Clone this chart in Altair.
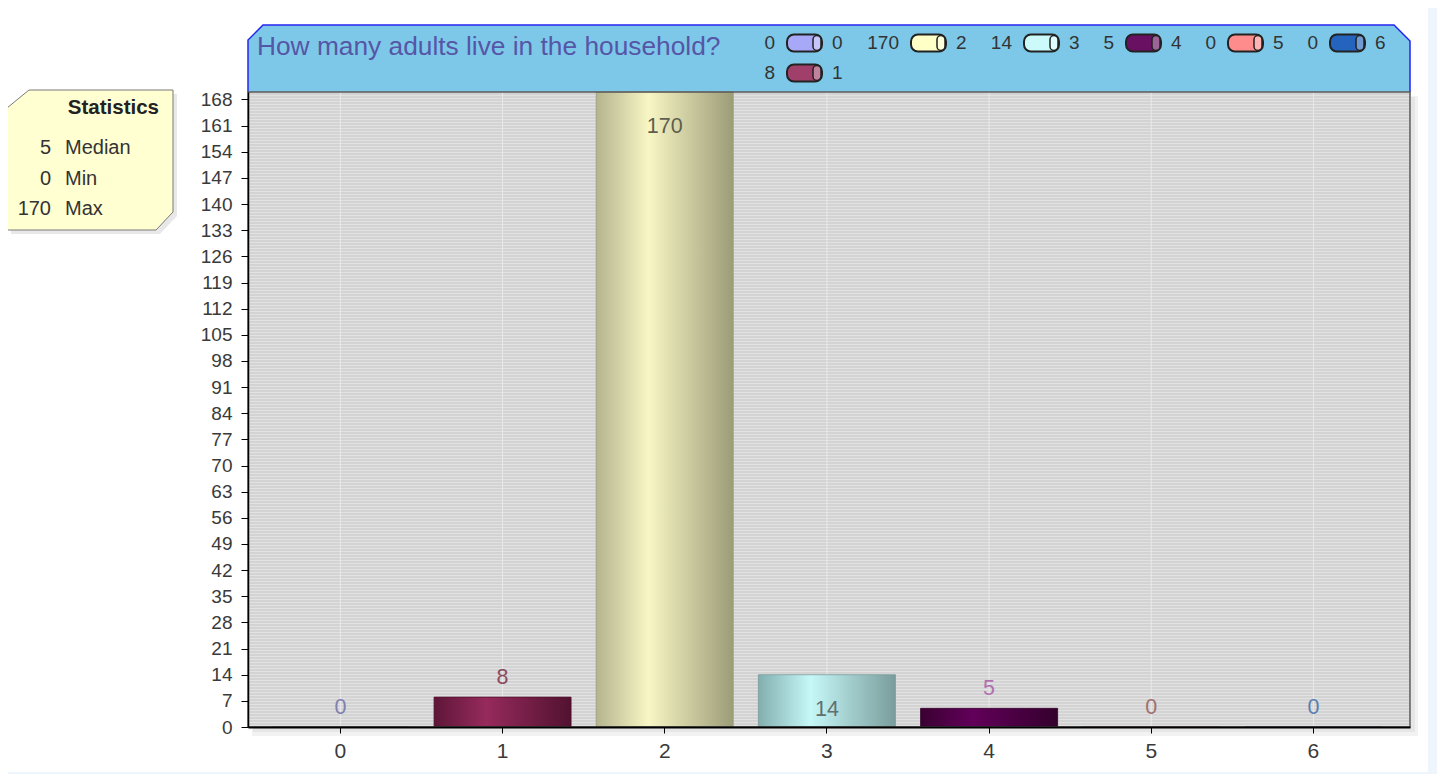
import altair as alt
import pandas as pd
import numpy as np

# ---------------- data ----------------
categories = ["0", "1", "2", "3", "4", "5", "6"]
counts = [0, 8, 170, 14, 5, 0, 0]
y_ticks = list(range(0, 169, 7))
legend_rows = [["0", "2", "3", "4", "5", "6"], ["1"]]
title_text = "How many adults live in the household?"
stats_names = ["Median", "Min", "Max"]

# ---------------- style ----------------
FONT = "Liberation Sans"
bar_style = {  # left edge, highlight, right edge
    "0": ("#7070C0", "#B0B0FF", "#6868B0"),
    "1": ("#5E1638", "#962A5C", "#521230"),
    "2": ("#B4B48E", "#F8F6C4", "#9C9C78"),
    "3": ("#82AEAE", "#C6F8F8", "#7A9C9C"),
    "4": ("#3A0032", "#62005A", "#34002C"),
    "5": ("#C05050", "#FF9090", "#B04848"),
    "6": ("#103870", "#3070D0", "#0E3266"),
}
label_colors = ["#8080B0", "#8A4A5E", "#5E5E50", "#5E7070", "#B070B0", "#A07070", "#5A7EB0"]
swatch_colors = {"0": "#A8A8F8", "1": "#A0406A", "2": "#FFFFC8", "3": "#CCFAFA",
                 "4": "#6A1062", "5": "#FF8C8C", "6": "#2464BE"}

W, H = 1162, 635
df = pd.DataFrame({"cat": categories, "count": counts})
one = pd.DataFrame({"k": [0]})

x_scale = alt.Scale(domain=categories, paddingInner=0.155, paddingOuter=0.16, align=0.46)
y_scale = alt.Scale(domain=[0, 170], nice=False, zero=True)
xax = alt.Axis(title=None, labelAngle=0, labelFontSize=21, labelColor="#3A3A3A", labelFont=FONT,
               tickColor="#000", tickSize=6, labelPadding=7, domainColor="#000", domainWidth=2,
               grid=False, bandPosition=0.5, zindex=1)
yax = alt.Axis(title=None, values=y_ticks, labelFontSize=19, labelColor="#3A3A3A", labelFont=FONT,
               tickColor="#000", tickSize=7, labelPadding=9, domainColor="#000", domainWidth=1.5,
               grid=False, zindex=1)
X = alt.X("cat:N", scale=x_scale, axis=xax)
Y = alt.Y("count:Q", scale=y_scale, axis=yax)

layers = []

# striped plot background
n_str = int(np.ceil(H / 3))
stops = []
for k in range(n_str):
    o0 = min(1.0, k * 3 / H)
    o1 = min(1.0, (k * 3 + 1) / H)
    o2 = min(1.0, (k * 3 + 3) / H)
    stops += [alt.GradientStop(offset=o0, color="#E2E2E2"), alt.GradientStop(offset=o1, color="#E2E2E2"),
              alt.GradientStop(offset=o1, color="#D3D3D3"), alt.GradientStop(offset=o2, color="#D3D3D3")]
stripes = alt.Gradient(gradient="linear", x1=0, x2=0, y1=0, y2=1, stops=stops)
layers.append(alt.Chart(one).mark_rect(fill=stripes).encode(
    x=alt.value(0), x2=alt.value(W), y=alt.value(0), y2=alt.value(H)))

# vertical grid lines at category centres
layers.append(alt.Chart(df).mark_rule(stroke="#E9E9E9", strokeWidth=1).encode(
    x=X, y=alt.value(0), y2=alt.value(H)))

# light-blue page strips (outside plot)
for (x1, x2, y1, y2) in [(1180, 1200, -92, 700), (-250, 1200, 680, 700)]:
    layers.append(alt.Chart(one).mark_rect(fill="#EEF5FD").encode(
        x=alt.value(x1), x2=alt.value(x2), y=alt.value(y1), y2=alt.value(y2)))

# plot shadow
for (x1, x2, y1, y2, col) in [(4, W + 8, H + 1, H + 9, "#F2F2F2"), (W + 1, W + 8, 4, H + 9, "#F2F2F2"),
                              (5, W + 5, H + 1, H + 5, "#E6E6E6"), (W + 1, W + 5, 5, H + 5, "#E6E6E6")]:
    layers.append(alt.Chart(one).mark_rect(fill=col).encode(
        x=alt.value(x1), x2=alt.value(x2), y=alt.value(y1), y2=alt.value(y2)))

# header box with cut corners
header_path = f"M0,0 L0,-52 L15,-67 L{W-16},-67 L{W},-51 L{W},0"
layers.append(alt.Chart(one).mark_point(
    shape=header_path, size=4, filled=True, fill="#7DC8E8", stroke="#2424F0",
    strokeWidth=1.5, opacity=1, fillOpacity=1, strokeOpacity=1
).encode(x=alt.value(0), y=alt.value(0)))
layers.append(alt.Chart(one).mark_text(
    text=title_text, font=FONT, fontSize=26.3, color="#5656A6", align="left", baseline="middle"
).encode(x=alt.value(9), y=alt.value(-45)))

# statistics box
stats_path = "M-241,16 L-219,-2 L-75,-2 L-75,120 L-92,138 L-241,138 Z"
layers.append(alt.Chart(one).mark_point(
    shape=stats_path, size=4, filled=True, fill="#D8D8D8", opacity=0.6, strokeWidth=0
).encode(x=alt.value(4), y=alt.value(4)))
layers.append(alt.Chart(one).mark_point(
    shape=stats_path, size=4, filled=True, fill="#FFFFD2", stroke="#7A7A7A",
    strokeWidth=1, opacity=1, fillOpacity=1, strokeOpacity=1
).encode(x=alt.value(0), y=alt.value(0)))
layers.append(alt.Chart(one).mark_text(
    text="Statistics", font=FONT, fontSize=20.5, fontWeight="bold", color="#222",
    align="right", baseline="middle").encode(x=alt.value(-89), y=alt.value(16)))
layers.append(alt.Chart(one).mark_rule(
    stroke=alt.Gradient(gradient="linear", x1=0, x2=1, y1=0, y2=0, stops=[
        alt.GradientStop(offset=0, color="#FFFFD2"), alt.GradientStop(offset=0.5, color="#A8A898"),
        alt.GradientStop(offset=1, color="#FFFFD2")]),
    strokeWidth=2).encode(x=alt.value(-225), x2=alt.value(-82), y=alt.value(36)))
stats_vals = [int(np.median(counts)), int(min(counts)), int(max(counts))]
for i, (nm, v) in enumerate(zip(stats_names, stats_vals)):
    yy = 56 + i * 30.5
    layers.append(alt.Chart(one).mark_text(
        text=str(v), font=FONT, fontSize=20, color="#333", align="right", baseline="middle"
    ).encode(x=alt.value(-197), y=alt.value(yy)))
    layers.append(alt.Chart(one).mark_text(
        text=nm, font=FONT, fontSize=20, color="#333", align="left", baseline="middle"
    ).encode(x=alt.value(-183), y=alt.value(yy)))

# bars
for i, c in enumerate(categories):
    l, hi, r = bar_style[c]
    grad = alt.Gradient(gradient="linear", x1=0, x2=1, y1=0, y2=0, stops=[
        alt.GradientStop(offset=0, color=l), alt.GradientStop(offset=0.38, color=hi),
        alt.GradientStop(offset=1, color=r)])
    layers.append(alt.Chart(df).transform_filter(alt.datum.cat == c).mark_bar(
        fill=grad, stroke=r, strokeWidth=1, strokeOpacity=0.8
    ).encode(x=X, y=Y))

# plot border
layers.append(alt.Chart(one).mark_rect(fillOpacity=0, stroke="#5A5A5A", strokeWidth=1.5).encode(
    x=alt.value(0), x2=alt.value(W), y=alt.value(0), y2=alt.value(H)))

label_color = alt.Color("cat:N", scale=alt.Scale(domain=categories, range=label_colors), legend=None)
layers.append(alt.Chart(df).transform_filter(alt.datum["count"] > 10).mark_text(
    font=FONT, fontSize=21.5, baseline="middle", dy=35
).encode(x=X, y=Y, text="count:Q", color=label_color))
layers.append(alt.Chart(df).transform_filter(alt.datum["count"] <= 10).mark_text(
    font=FONT, fontSize=21.5, baseline="middle", dy=-19
).encode(x=X, y=Y, text="count:Q", color=label_color))

# custom legend in the header
DIG = 11.0
count_of = dict(zip(categories, counts))
for r, row in enumerate(legend_rows):
    ry = -49 + r * 30
    vr = 527
    for j, c in enumerate(row):
        sw0, sw1 = vr + 12, vr + 47
        sub = alt.Chart(df).transform_filter(alt.datum.cat == c)
        layers.append(sub.mark_text(font=FONT, fontSize=19, color="#333", align="right",
                                    baseline="middle").encode(text="count:Q", x=alt.value(vr), y=alt.value(ry)))
        layers.append(alt.Chart(one).mark_rect(
            fill=swatch_colors[c], stroke="#222", strokeWidth=2, cornerRadius=7
        ).encode(x=alt.value(sw0), x2=alt.value(sw1), y=alt.value(ry - 8.5), y2=alt.value(ry + 8.5)))
        layers.append(alt.Chart(one).mark_rect(
            fill="#FFFFFF", fillOpacity=0.35, stroke="#222", strokeWidth=1.5, cornerRadius=4
        ).encode(x=alt.value(sw1 - 9), x2=alt.value(sw1 - 1), y=alt.value(ry - 7.5), y2=alt.value(ry + 7.5)))
        layers.append(sub.mark_text(font=FONT, fontSize=19, color="#333", align="left",
                                    baseline="middle").encode(text="cat:N", x=alt.value(sw1 + 10), y=alt.value(ry)))
        if j + 1 < len(row):
            nxt = row[j + 1]
            vr = sw1 + 10 + DIG * len(c) + 23 + DIG * len(str(count_of[nxt]))

chart = alt.layer(*layers).properties(
    width=W, height=H,
    autosize=alt.AutoSizeParams(type="none"),
    padding={"left": 240, "top": 84, "right": 27, "bottom": 47},
    background="#FFFFFF",
).configure_view(stroke=None)

chart.save("out.html", embed_options={"renderer": "svg", "actions": False})
